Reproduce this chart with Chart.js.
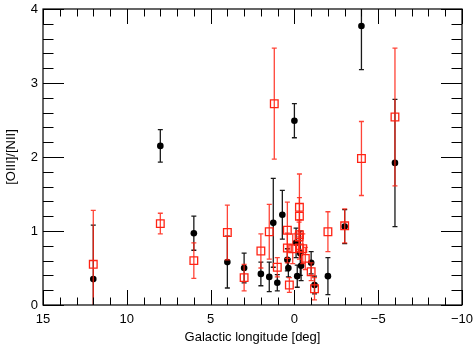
<!DOCTYPE html>
<html>
<head>
<meta charset="utf-8">
<script src="https://cdn.jsdelivr.net/npm/chart.js@4"></script>
<style>
  html, body { margin: 0; padding: 0; background: #fff; }
</style>
</head>
<body>
<canvas id="lonChart" width="475" height="347"></canvas>
<script>
// [OIII]/[NII] ratio vs galactic longitude, two samples
const blackLon = [12.0, 8.0, 6.0, 4.0, 3.0, 2.0, 1.5, 1.26, 1.02, 0.72, 0.42, 0.36, 0.0, -0.1, -0.17, -0.35, -0.4, -1.0, -1.2, -2.0, -3.0, -4.0, -6.0];
const blackRatio = [0.35, 2.15, 0.97, 0.58, 0.50, 0.42, 0.38, 1.11, 0.30, 1.22, 0.61, 0.50, 2.49, 0.84, 0.39, 0.70, 0.53, 0.57, 0.27, 0.39, 1.06, 3.77, 1.92];
const blackErr = [0.73, 0.22, 0.23, 0.35, 0.20, 0.16, 0.20, 0.60, 0.11, 0.33, 0.15, 0.12, 0.23, 0.20, 0.15, 0.30, 0.20, 0.15, 0.12, 0.25, 0.23, 0.59, 0.86];

const redLon = [12.0, 8.0, 6.0, 4.0, 3.0, 2.0, 1.5, 1.2, 1.02, 0.42, 0.3, 0.42, 0.1, -0.3, -0.3, -0.3, -0.28, -0.3, -0.5, -0.65, -1.0, -1.2, -2.0, -3.0, -4.0, -6.0];
const redRatio = [0.55, 1.10, 0.60, 0.98, 0.37, 0.73, 0.99, 2.72, 0.51, 1.01, 0.27, 0.77, 0.76, 1.32, 1.20, 0.95, 0.92, 0.77, 0.76, 0.63, 0.45, 0.22, 0.99, 1.07, 1.98, 2.54];
const redErr = [0.73, 0.14, 0.24, 0.37, 0.18, 0.23, 0.37, 0.75, 0.13, 0.38, 0.10, 0.20, 0.20, 0.45, 0.25, 0.20, 0.20, 0.15, 0.20, 0.15, 0.12, 0.15, 0.27, 0.23, 0.50, 0.93];

const xTickValues = [15, 10, 5, 0, -5, -10];
const yTickValues = [0, 1, 2, 3, 4];

const labelFont = { family: 'Liberation Sans', size: 13 };

function toPoints(xs, ys) {
  return xs.map((v, i) => ({ x: v, y: ys[i] }));
}

// error bars drawn just before each dataset's markers
const errorBars = {
  id: 'errorBars',
  beforeDatasetDraw(chart, args) {
    const ds = chart.data.datasets[args.index];
    if (!ds.errs) return;
    const { ctx, chartArea: a } = chart;
    const xs = chart.scales.x, ys = chart.scales.y;
    ctx.save();
    ctx.beginPath();
    ctx.rect(a.left, a.top, a.width, a.height);
    ctx.clip();
    ctx.strokeStyle = ds.errColor;
    ctx.lineWidth = 1.3;
    ds.data.forEach((p, i) => {
      const px = xs.getPixelForValue(p.x);
      const top = ys.getPixelForValue(p.y + ds.errs[i]);
      const bot = ys.getPixelForValue(p.y - ds.errs[i]);
      ctx.beginPath();
      ctx.moveTo(px, top); ctx.lineTo(px, bot);
      ctx.moveTo(px - 2.5, top); ctx.lineTo(px + 2.5, top);
      ctx.moveTo(px - 2.5, bot); ctx.lineTo(px + 2.5, bot);
      ctx.stroke();
    });
    ctx.restore();
  }
};

// box frame with inward major/minor ticks on all four sides
const frame = {
  id: 'frame',
  afterDatasetsDraw(chart) {
    const { ctx, chartArea: a } = chart;
    const xs = chart.scales.x, ys = chart.scales.y;
    ctx.save();
    ctx.strokeStyle = '#000';
    ctx.lineWidth = 1.2;
    ctx.strokeRect(a.left, a.top, a.width, a.height);
    ctx.lineWidth = 1;
    ctx.beginPath();
    for (let v = -10; v <= 15; v++) {
      const len = v % 5 === 0 ? 15 : 7.5;
      const px = Math.round(xs.getPixelForValue(v)) + 0.5;
      ctx.moveTo(px, a.bottom); ctx.lineTo(px, a.bottom - len);
      ctx.moveTo(px, a.top); ctx.lineTo(px, a.top + len);
    }
    for (let k = 0; k <= 20; k++) {
      const len = k % 5 === 0 ? 21 : 10.5;
      const py = Math.round(ys.getPixelForValue(k * 0.2)) + 0.5;
      ctx.moveTo(a.left, py); ctx.lineTo(a.left + len, py);
      ctx.moveTo(a.right, py); ctx.lineTo(a.right - len, py);
    }
    ctx.stroke();
    ctx.restore();
  }
};

const ctx = document.getElementById('lonChart').getContext('2d');
const chart = new Chart(ctx, {
  type: 'scatter',
  data: {
    datasets: [
      {
        label: 'red',
        data: toPoints(redLon, redRatio),
        errs: redErr,
        errColor: 'rgba(255,35,20,0.85)',
        pointStyle: 'rect',
        pointRadius: 5.4,
        borderColor: 'rgb(255,35,20)',
        backgroundColor: 'rgba(0,0,0,0)',
        borderWidth: 1.3,
        order: 0
      },
      {
        label: 'black',
        data: toPoints(blackLon, blackRatio),
        errs: blackErr,
        errColor: 'rgba(0,0,0,0.9)',
        pointStyle: 'circle',
        pointRadius: 3.3,
        borderColor: '#000',
        backgroundColor: '#000',
        borderWidth: 0,
        order: 1
      }
    ]
  },
  options: {
    responsive: false,
    animation: false,
    devicePixelRatio: 1,
    layout: { padding: { top: 9, right: 13, left: 0, bottom: 0 } },
    plugins: { legend: { display: false }, tooltip: { enabled: false } },
    scales: {
      x: {
        type: 'linear',
        min: -10,
        max: 15,
        reverse: true,
        grid: { display: false, drawTicks: false },
        border: { display: false },
        afterBuildTicks: s => { s.ticks = xTickValues.map(v => ({ value: v })); },
        afterFit: s => { s.height = 42; s.paddingLeft = 0; s.paddingRight = 0; },
        ticks: {
          padding: 7,
          color: '#000',
          font: labelFont,
          maxRotation: 0,
          callback: v => (v < 0 ? '\u2212' + Math.abs(v) : String(v))
        },
        title: {
          display: true,
          text: 'Galactic longitude [deg]',
          color: '#000',
          font: labelFont,
          padding: { top: 0, bottom: 2 }
        }
      },
      y: {
        type: 'linear',
        min: 0,
        max: 4,
        grid: { display: false, drawTicks: false },
        border: { display: false },
        afterBuildTicks: s => { s.ticks = yTickValues.map(v => ({ value: v })); },
        afterFit: s => { s.width = 43; s.paddingTop = 0; s.paddingBottom = 0; },
        ticks: {
          padding: 5,
          color: '#000',
          font: labelFont,
          callback: v => String(v)
        },
        title: {
          display: true,
          text: '[OIII]/[NII]',
          color: '#000',
          font: labelFont,
          padding: { top: 4, bottom: 0 }
        }
      }
    }
  },
  plugins: [errorBars, frame]
});
</script>
</body>
</html>
